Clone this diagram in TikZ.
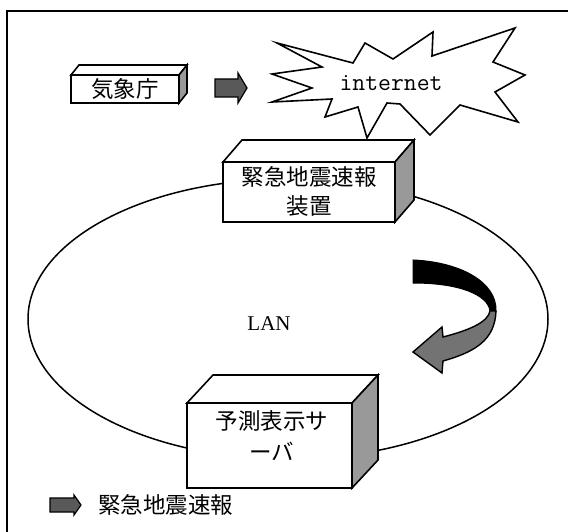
\documentclass[tikz,border=0pt]{standalone}
\usepackage{fontspec}
\newfontfamily\jp{Noto Sans CJK JP}
\newfontfamily\lanfont{Liberation Serif}
\tikzset{
  boxline/.style={line width=1.6pt, line join=miter},
  frontface/.style={boxline, fill=white},
  topface/.style={boxline, fill=white},
  sideface/.style={boxline, fill=black!40},
  flatarrow/.style={line width=1.2pt, fill=black!65, line join=miter},
  jplabel/.style={font=\jp\fontsize{22.5}{26}\selectfont, inner sep=0pt},
}
\begin{document}
\begin{tikzpicture}[x=1pt,y=-1pt]
\useasboundingbox (0,0) rectangle (568,532);
\clip (0,0) rectangle (568,532);
% frame
\draw[line width=2pt] (7,540) -- (7,11) -- (580,11);
% LAN ellipse
\draw[line width=1.5pt] (288,319) ellipse [x radius=260pt, y radius=140pt];
% Meteorological agency box
\draw[topface] (71,75) -- (79,65) -- (187,65) -- (179,75) -- cycle;
\draw[sideface] (179,75) -- (187,65) -- (187,93) -- (179,103) -- cycle;
\draw[frontface] (71,75) rectangle (179,103);
\node[jplabel] (jma) at (125,89) {気象庁};
% small arrow
\draw[flatarrow] (215,79) -- (238,79) -- (238,73) -- (247,88) -- (238,103) -- (238,97) -- (215,97) -- cycle;
% internet starburst
\draw[line width=1.6pt, line join=miter, fill=white]
  (277,43) -- (353,63) -- (365,43) -- (393,59) -- (433,32) -- (432,56)
  -- (515,28) -- (493,62) -- (525,75) -- (495,92) -- (518,122) -- (460,105)
  -- (430,135) -- (400,104) -- (387,103) -- (367,138) -- (358,107) -- (325,117)
  -- (332,99) -- (272,102) -- (312,88) -- (272,74) -- (322,67) -- cycle;
\node[font=\ttfamily\fontsize{25}{28}\selectfont, inner sep=0pt] (inet) at (391,83) {internet};
% EEW device box
\draw[topface] (223,162) -- (242,140) -- (414,140) -- (395,162) -- cycle;
\draw[sideface] (395,162) -- (414,140) -- (414,200) -- (395,222) -- cycle;
\draw[frontface] (223,162) rectangle (395,222);
\node[jplabel] (dev1) at (309,177) {緊急地震速報};
\node[jplabel] (dev2) at (309,206) {装置};
% LAN label
\node[font=\lanfont\fontsize{21}{24}\selectfont, inner sep=0pt] (lan) at (269,324) {LAN};
% curved arrow
\filldraw[line width=1pt, fill=black] (413,260) .. controls (460,262) and (497,282) .. (496,311)
  -- (490,311) .. controls (488,295) and (460,283) .. (413,283) -- cycle;
\filldraw[line width=1.4pt, fill=black!55, line join=miter] (496,311) .. controls (495,340) and (475,352) .. (443,361)
  -- (442,373) -- (413,352) -- (442,327) -- (443,337)
  .. controls (470,330) and (488,322) .. (490,311) -- cycle;
% server box
\draw[topface] (187,403) -- (213,375) -- (378,375) -- (352,403) -- cycle;
\draw[sideface] (352,403) -- (378,375) -- (378,460) -- (352,488) -- cycle;
\draw[frontface] (187,403) rectangle (352,488);
\node[jplabel] (srv1) at (272,421) {予測表示サ};
\node[jplabel] (srv2) at (272,451) {ーバ};
% legend
\draw[flatarrow] (50,498) -- (74,498) -- (74,495) -- (81,505) -- (74,515) -- (74,512) -- (50,512) -- cycle;
\node[jplabel, anchor=west] (leg) at (98,505) {緊急地震速報};
\end{tikzpicture}
\end{document}
